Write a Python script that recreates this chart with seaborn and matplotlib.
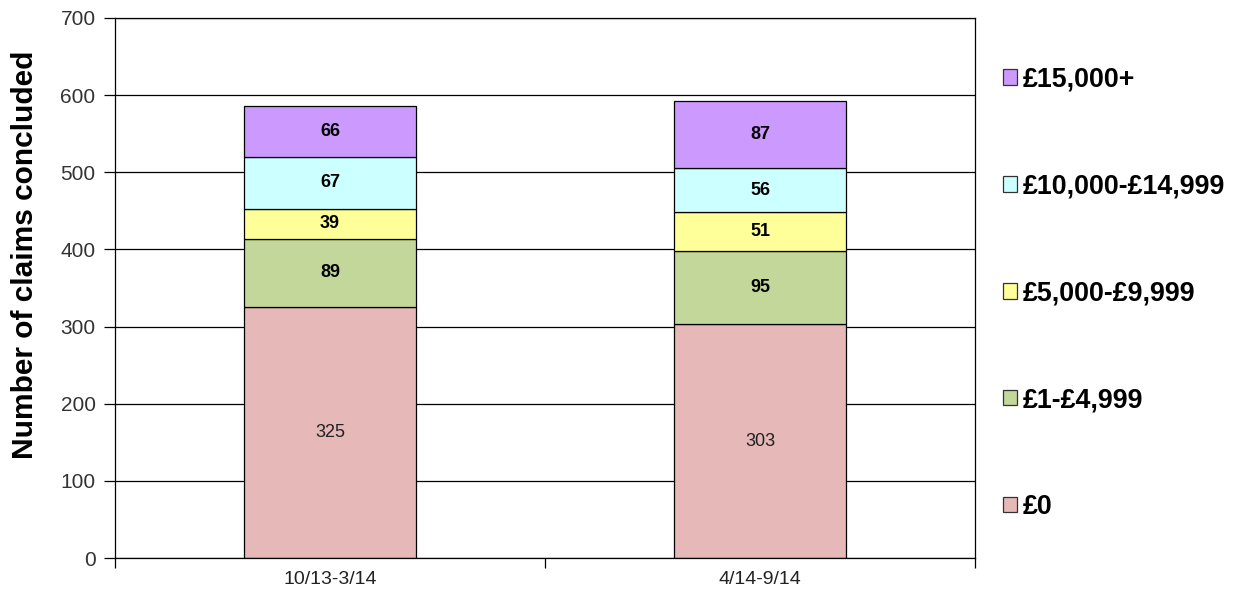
import pandas as pd
import matplotlib.pyplot as plt
import seaborn as sns

# data
periods = ["10/13-3/14", "4/14-9/14"]
bands = ["£0", "£1-£4,999", "£5,000-£9,999", "£10,000-£14,999", "£15,000+"]
band_colors = ["#E6B8B7", "#C4D79B", "#FFFF99", "#CCFFFF", "#CC99FF"]
claims_0 = [325, 303]
claims_1_4999 = [89, 95]
claims_5000_9999 = [39, 51]
claims_10000_14999 = [67, 56]
claims_15000_plus = [66, 87]

series = [claims_0, claims_1_4999, claims_5000_9999, claims_10000_14999, claims_15000_plus]

sns.set_style("white")
plt.rcParams["font.family"] = ["Liberation Sans", "DejaVu Sans"]

fig = plt.figure(figsize=(12.44, 5.94), dpi=100)
ax = fig.add_axes([0.0924, 0.0606, 0.6914, 0.9091])

# grid lines behind bars
ax.set_axisbelow(True)
ax.yaxis.grid(True, color="black", linewidth=0.9)

bottom = [0, 0]
for i, (name, vals, col) in enumerate(zip(bands, series, band_colors)):
    df = pd.DataFrame({"period": periods, "claims": vals})
    sns.barplot(data=df, x="period", y="claims", bottom=bottom, color=col,
                width=0.4, edgecolor="black", linewidth=0.9, saturation=1,
                label=name, ax=ax)
    for j, v in enumerate(vals):
        ax.text(j, bottom[j] + v / 2, str(v), ha="center", va="center",
                fontsize=13, fontweight="normal" if i == 0 else "bold",
                color="#222222" if i == 0 else "black")
    bottom = [b + v for b, v in zip(bottom, vals)]

ax.set_xlim(-0.5, 1.5)
ax.set_ylim(0, 700)
ax.set_yticks(range(0, 701, 100))
ax.tick_params(axis="y", direction="out", length=8, width=0.9, color="black",
               labelsize=15, labelcolor="#333333", pad=6, left=True)

# category boundaries as major ticks, labels as minor ticks
ax.set_xticks([-0.5, 0.5, 1.5])
ax.set_xticklabels(["", "", ""])
ax.set_xticks([0, 1], minor=True)
ax.set_xticklabels(periods, minor=True, fontsize=14, color="#222222")
ax.tick_params(axis="x", which="major", direction="out", length=7, width=0.9,
               color="black", bottom=True)
ax.tick_params(axis="x", which="minor", length=0, pad=9)

ax.set_xlabel("")
ax.set_ylabel("Number of claims concluded", fontsize=21.5, fontweight="bold",
              color="black")
ax.yaxis.set_label_coords(-0.088, 0.561)

for s in ax.spines.values():
    s.set_color("black")
    s.set_linewidth(0.9)
    s.set_visible(True)

handles, labels = ax.get_legend_handles_labels()
leg = ax.legend(handles[::-1], labels[::-1], loc="center left",
                bbox_to_anchor=(1.0, 0.49), frameon=False, labelspacing=3.02,
                handlelength=0.5, handleheight=0.5, handletextpad=0.22,
                borderaxespad=0.65,
                prop={"size": 19.3, "weight": "bold"})
for t in leg.get_texts():
    t.set_color("black")
for h in leg.legend_handles:
    h.set_edgecolor("#333333")

fig.savefig("out.png", dpi=100)
